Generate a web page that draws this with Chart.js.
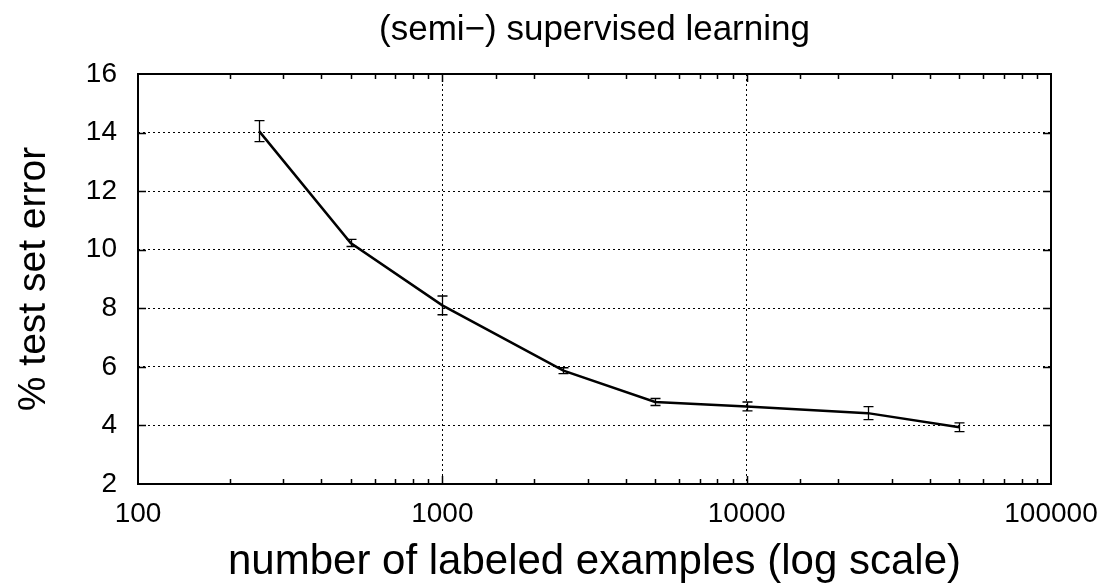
<!DOCTYPE html>
<html>
<head>
<meta charset="utf-8">
<script src="https://cdn.jsdelivr.net/npm/chart.js@4/dist/chart.umd.min.js"></script>
<style>
  html, body { margin: 0; padding: 0; background: #fff; }
  canvas { display: block; }
</style>
</head>
<body>
<canvas id="chart" width="1112" height="583"></canvas>
<script>
// data
const labeledExamples = [250, 500, 1000, 2500, 5000, 10000, 25000, 50000];
const testError = [14.05, 10.23, 8.1, 5.87, 4.8, 4.65, 4.42, 3.94];
const errorBar = [0.36, 0.12, 0.32, 0.1, 0.12, 0.15, 0.22, 0.15];
const yTicks = [2, 4, 6, 8, 10, 12, 14, 16];

const FONT = "'Liberation Sans', Arial, Helvetica, sans-serif";

function isPow10(v) {
    const l = Math.log10(v);
    return Math.abs(l - Math.round(l)) < 1e-9;
}

// inward ticks on all four sides, frame, error bars
const gnuplotLook = {
    id: 'gnuplotLook',
    afterDatasetsDraw(chart) {
        const ctx = chart.ctx;
        const xs = chart.scales.x;
        const ys = chart.scales.y;
        const a = chart.chartArea;
        ctx.save();

        // error bars
        ctx.strokeStyle = '#000';
        ctx.lineWidth = 1.3;
        labeledExamples.forEach((x, i) => {
            const px = Math.round(xs.getPixelForValue(x)) + 0.5;
            const top = ys.getPixelForValue(testError[i] + errorBar[i]);
            const bot = ys.getPixelForValue(testError[i] - errorBar[i]);
            ctx.beginPath();
            ctx.moveTo(px, top); ctx.lineTo(px, bot);
            ctx.moveTo(px - 5, top); ctx.lineTo(px + 5, top);
            ctx.moveTo(px - 5, bot); ctx.lineTo(px + 5, bot);
            ctx.stroke();
        });

        // ticks
        ctx.lineWidth = 1.5;
        xs.ticks.forEach(t => {
            if (t.value <= xs.min || t.value >= xs.max) return;
            const px = Math.round(xs.getPixelForValue(t.value)) + 0.5;
            const len = isPow10(t.value) ? 8 : 5;
            ctx.beginPath();
            ctx.moveTo(px, a.bottom); ctx.lineTo(px, a.bottom - len);
            ctx.moveTo(px, a.top); ctx.lineTo(px, a.top + len);
            ctx.stroke();
        });
        yTicks.forEach(v => {
            if (v <= ys.min || v >= ys.max) return;
            const py = Math.round(ys.getPixelForValue(v)) + 0.5;
            ctx.beginPath();
            ctx.moveTo(a.left, py); ctx.lineTo(a.left + 8, py);
            ctx.moveTo(a.right, py); ctx.lineTo(a.right - 8, py);
            ctx.stroke();
        });

        // frame
        ctx.lineWidth = 2;
        ctx.strokeRect(a.left, a.top, a.right - a.left, a.bottom - a.top);
        ctx.restore();
    }
};

new Chart(document.getElementById('chart'), {
    type: 'line',
    data: {
        datasets: [{
            data: labeledExamples.map((x, i) => ({ x: x, y: testError[i] })),
            borderColor: '#000',
            borderWidth: 2.5,
            pointRadius: 0,
            tension: 0,
            fill: false
        }]
    },
    options: {
        responsive: false,
        animation: false,
        devicePixelRatio: 1,
        layout: { padding: { left: 0, right: 61, top: 0, bottom: 0 } },
        plugins: {
            legend: { display: false },
            tooltip: { enabled: false },
            title: {
                display: true,
                fullSize: false,
                text: '(semi\u2212) supervised learning',
                color: '#000',
                font: { family: FONT, size: 35, weight: 'normal' },
                padding: { top: 9, bottom: 23 }
            }
        },
        scales: {
            x: {
                type: 'logarithmic',
                min: 100,
                max: 100000,
                border: { display: false, dash: [2, 3] },
                grid: {
                    drawTicks: false,
                    lineWidth: 1,
                    color: c => (c.tick && isPow10(c.tick.value) && c.tick.value > 100 && c.tick.value < 100000) ? '#000' : 'rgba(0,0,0,0)'
                },
                ticks: {
                    color: '#000',
                    font: { family: FONT, size: 28 },
                    padding: 13,
                    autoSkip: false,
                    maxRotation: 0,
                    callback: v => isPow10(v) ? String(v) : ''
                },
                title: {
                    display: true,
                    text: 'number of labeled examples (log scale)',
                    color: '#000',
                    font: { family: FONT, size: 42, lineHeight: 1.0 },
                    padding: { top: 2, bottom: 0 }
                },
                afterFit: s => { s.height = 99; }
            },
            y: {
                min: 2,
                max: 16,
                border: { display: false, dash: [2, 3] },
                grid: {
                    drawTicks: false,
                    lineWidth: 1,
                    color: c => (c.tick && c.tick.value > 2 && c.tick.value < 16) ? '#000' : 'rgba(0,0,0,0)'
                },
                ticks: {
                    stepSize: 2,
                    color: '#000',
                    font: { family: FONT, size: 28 },
                    padding: 21,
                    callback: v => yTicks.includes(v) ? String(v) : ''
                },
                title: {
                    display: true,
                    text: '% test set error',
                    color: '#000',
                    font: { family: FONT, size: 39 },
                    padding: { top: 11, bottom: 0 }
                },
                afterFit: s => { s.width = 138; }
            }
        }
    },
    plugins: [gnuplotLook]
});
</script>
</body>
</html>
